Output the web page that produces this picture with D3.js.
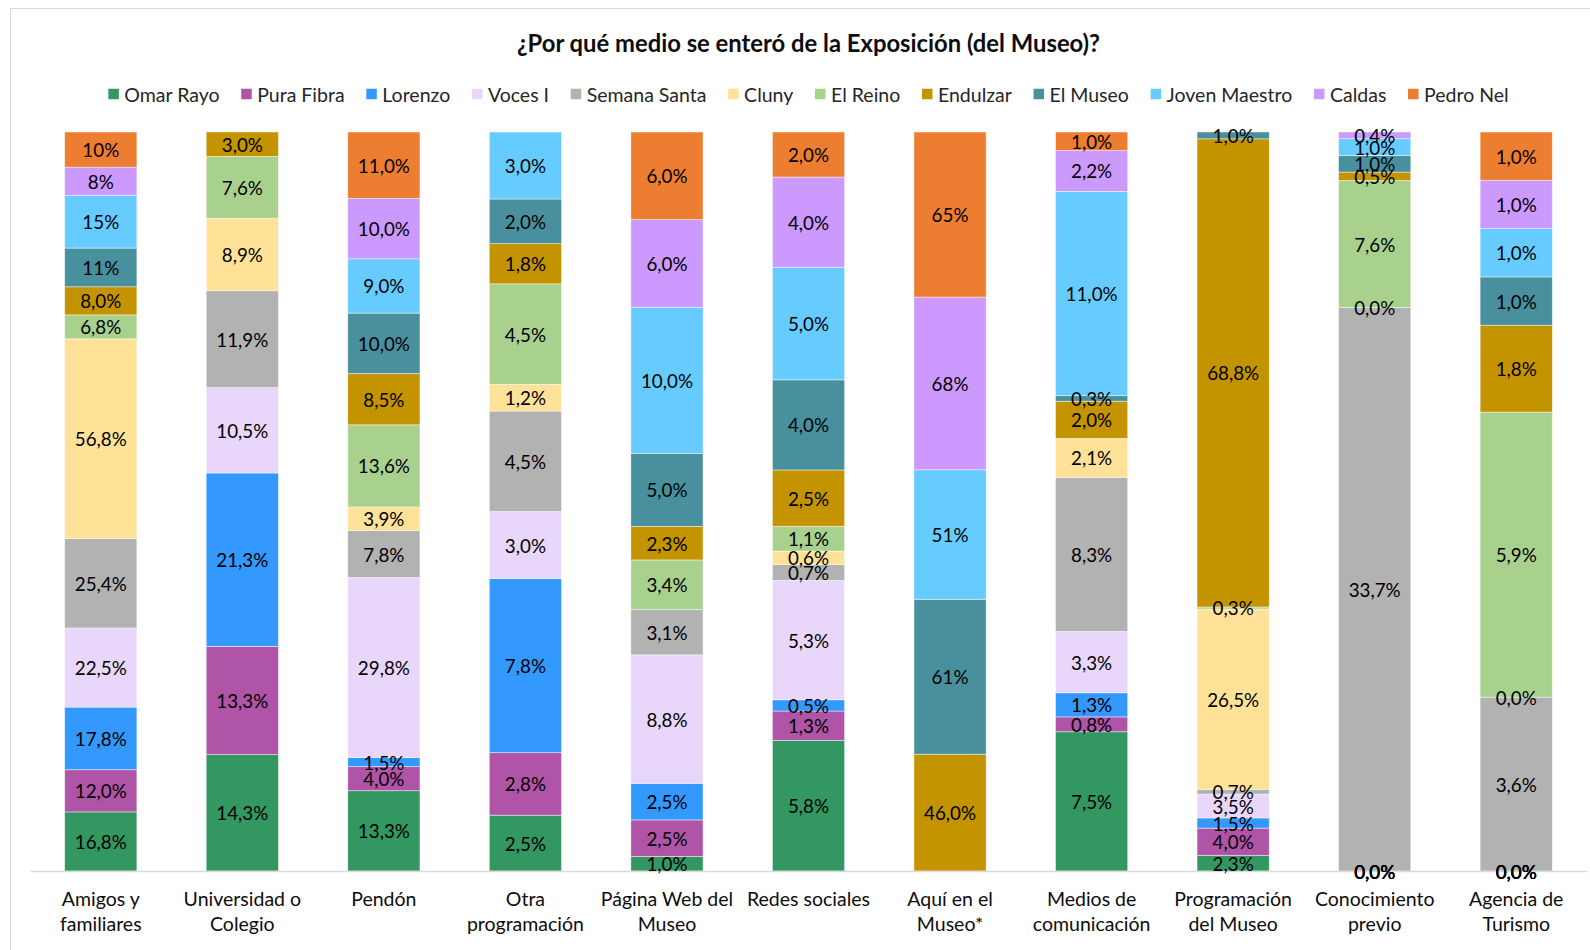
<!DOCTYPE html>
<html>
<head>
<meta charset="utf-8">
<script src="https://cdn.jsdelivr.net/npm/d3@7"></script>
<style>
  html, body { margin: 0; padding: 0; background: #fff; }
  svg { display: block; font-family: Lato, "Open Sans", sans-serif; }
</style>
</head>
<body>
<svg id="chart" width="1590" height="950"></svg>
<script>
// ---------- DATA ----------
const title = "¿Por qué medio se enteró de la Exposición (del Museo)?";
const categories = [
  "Amigos y\nfamiliares", "Universidad o\nColegio", "Pendón", "Otra\nprogramación",
  "Página Web del\nMuseo", "Redes sociales", "Aquí en el\nMuseo*", "Medios de\ncomunicación",
  "Programación\ndel Museo", "Conocimiento\nprevio", "Agencia de\nTurismo"
];
const seriesNames = ["Omar Rayo", "Pura Fibra", "Lorenzo", "Voces I", "Semana Santa", "Cluny",
  "El Reino", "Endulzar", "El Museo", "Joven Maestro", "Caldas", "Pedro Nel"];
const seriesColors = ["#339762", "#b054a8", "#3399ff", "#e9d7fb", "#b2b2b2", "#ffe297",
  "#a9d18e", "#c49300", "#48909e", "#66ccff", "#cc99ff", "#ed7d31"];

// value labels as shown (Spanish decimal comma); null = no value shown
const omarRayo     = ["16,8","14,3","13,3","2,5","1,0","5,8",null,"7,5","2,3","0,0","0,0"];
const puraFibra    = ["12,0","13,3","4,0","2,8","2,5","1,3",null,"0,8","4,0","0,0","0,0"];
const lorenzo      = ["17,8","21,3","1,5","7,8","2,5","0,5",null,"1,3","1,5","0,0","0,0"];
const vocesI       = ["22,5","10,5","29,8","3,0","8,8","5,3",null,"3,3","3,5","0,0","0,0"];
const semanaSanta  = ["25,4","11,9","7,8","4,5","3,1","0,7",null,"8,3","0,7","33,7","3,6"];
const cluny        = ["56,8","8,9","3,9","1,2",null,"0,6",null,"2,1","26,5","0,0","0,0"];
const elReino      = ["6,8","7,6","13,6","4,5","3,4","1,1",null,null,"0,3","7,6","5,9"];
const endulzar     = ["8,0","3,0","8,5","1,8","2,3","2,5","46,0","2,0","68,8","0,5","1,8"];
const elMuseo      = ["11",null,"10,0","2,0","5,0","4,0","61","0,3","1,0","1,0","1,0"];
const jovenMaestro = ["15",null,"9,0","3,0","10,0","5,0","51","11,0",null,"1,0","1,0"];
const caldas       = ["8",null,"10,0",null,"6,0","4,0","68","2,2",null,"0,4","1,0"];
const pedroNel     = ["10",null,"11,0",null,"6,0","2,0","65","1,0",null,null,"1,0"];

const seriesValues = [omarRayo, puraFibra, lorenzo, vocesI, semanaSanta, cluny,
  elReino, endulzar, elMuseo, jovenMaestro, caldas, pedroNel];

// ---------- BUILD TABLE ----------
const num = s => s == null ? 0 : parseFloat(s.replace(",", "."));
const table = categories.map((c, i) => {
  const row = { category: c };
  seriesNames.forEach((n, j) => { row[n] = num(seriesValues[j][i]); });
  return row;
});

// ---------- LAYOUT ----------
const svg = d3.select("#chart");
const W = 1590, H = 950;
const plot = { left: 30, right: 1587, top: 132, bottom: 871 };
const FONT = 'Lato, "Open Sans", sans-serif';

svg.append("rect").attr("x", 10.5).attr("y", 8.5).attr("width", W).attr("height", H)
  .attr("fill", "#fff").attr("stroke", "#d9d9d9").attr("stroke-width", 1);

const x = d3.scaleBand().domain(categories).range([plot.left, plot.right]).paddingInner(0.49).paddingOuter(0.245);
const y = d3.scaleLinear().domain([0, 1]).range([plot.bottom, plot.top]);

const stack = d3.stack().keys(seriesNames).offset(d3.stackOffsetExpand);
const stacked = stack(table);

// title
svg.append("text")
  .attr("x", (plot.left + plot.right) / 2).attr("y", 43)
  .attr("text-anchor", "middle").attr("dominant-baseline", "central")
  .attr("font-weight", "bold").attr("font-size", 23.8).attr("fill", "#0d0d0d")
  .text(title);

// legend
const legend = svg.append("g");
const items = legend.selectAll("g").data(seriesNames).join("g");
items.append("rect").attr("width", 10.5).attr("height", 10.5).attr("y", -5.25)
  .attr("fill", (d, i) => seriesColors[i]);
items.append("text").attr("x", 16).attr("dominant-baseline", "central")
  .attr("font-size", 19.5).attr("fill", "#262626").text(d => d);
const GAP = 21.7;
let lx = 0;
items.each(function () {
  const g = d3.select(this);
  const w = 16 + g.select("text").node().getComputedTextLength();
  g.attr("transform", `translate(${lx},94)`);
  lx += w + GAP;
});
const legendW = lx - GAP;
legend.attr("transform", `translate(${(plot.left + plot.right) / 2 - legendW / 2},0)`);

// bars
const layers = svg.append("g").selectAll("g").data(stacked).join("g")
  .attr("fill", (d, i) => seriesColors[i]);
layers.selectAll("rect").data(d => d).join("rect")
  .attr("x", d => x(d.data.category))
  .attr("width", x.bandwidth())
  .attr("y", d => y(d[1]))
  .attr("height", d => Math.max(0, y(d[0]) - y(d[1])))
  .attr("stroke", "rgba(255,255,255,0.55)").attr("stroke-width", 0.8);

// axis
const axis = svg.append("g").attr("transform", `translate(0,${plot.bottom})`)
  .call(d3.axisBottom(x).tickSize(0).tickFormat(""));
axis.select(".domain").attr("stroke", "#d9d9d9").attr("stroke-width", 1.3);
axis.selectAll(".tick").each(function (c) {
  const lines = c.split("\n");
  const t = d3.select(this).append("text").attr("fill", "#0d0d0d")
    .attr("font-size", 19.5).attr("font-family", FONT).attr("text-anchor", "middle");
  lines.forEach((l, k) => {
    t.append("tspan").attr("x", 0).attr("y", 27 + k * 25.5).attr("dominant-baseline", "central").text(l);
  });
});

// data labels
const labelG = svg.append("g");
stacked.forEach((layer, j) => {
  layer.forEach((d, i) => {
    const s = seriesValues[j][i];
    if (s == null) return;
    labelG.append("text")
      .attr("x", x(d.data.category) + x.bandwidth() / 2)
      .attr("y", (y(d[0]) + y(d[1])) / 2)
      .attr("text-anchor", "middle").attr("dominant-baseline", "central")
      .attr("font-size", 18.8).attr("fill", "#000")
      .text(s + "%");
  });
});
</script>
</body>
</html>
